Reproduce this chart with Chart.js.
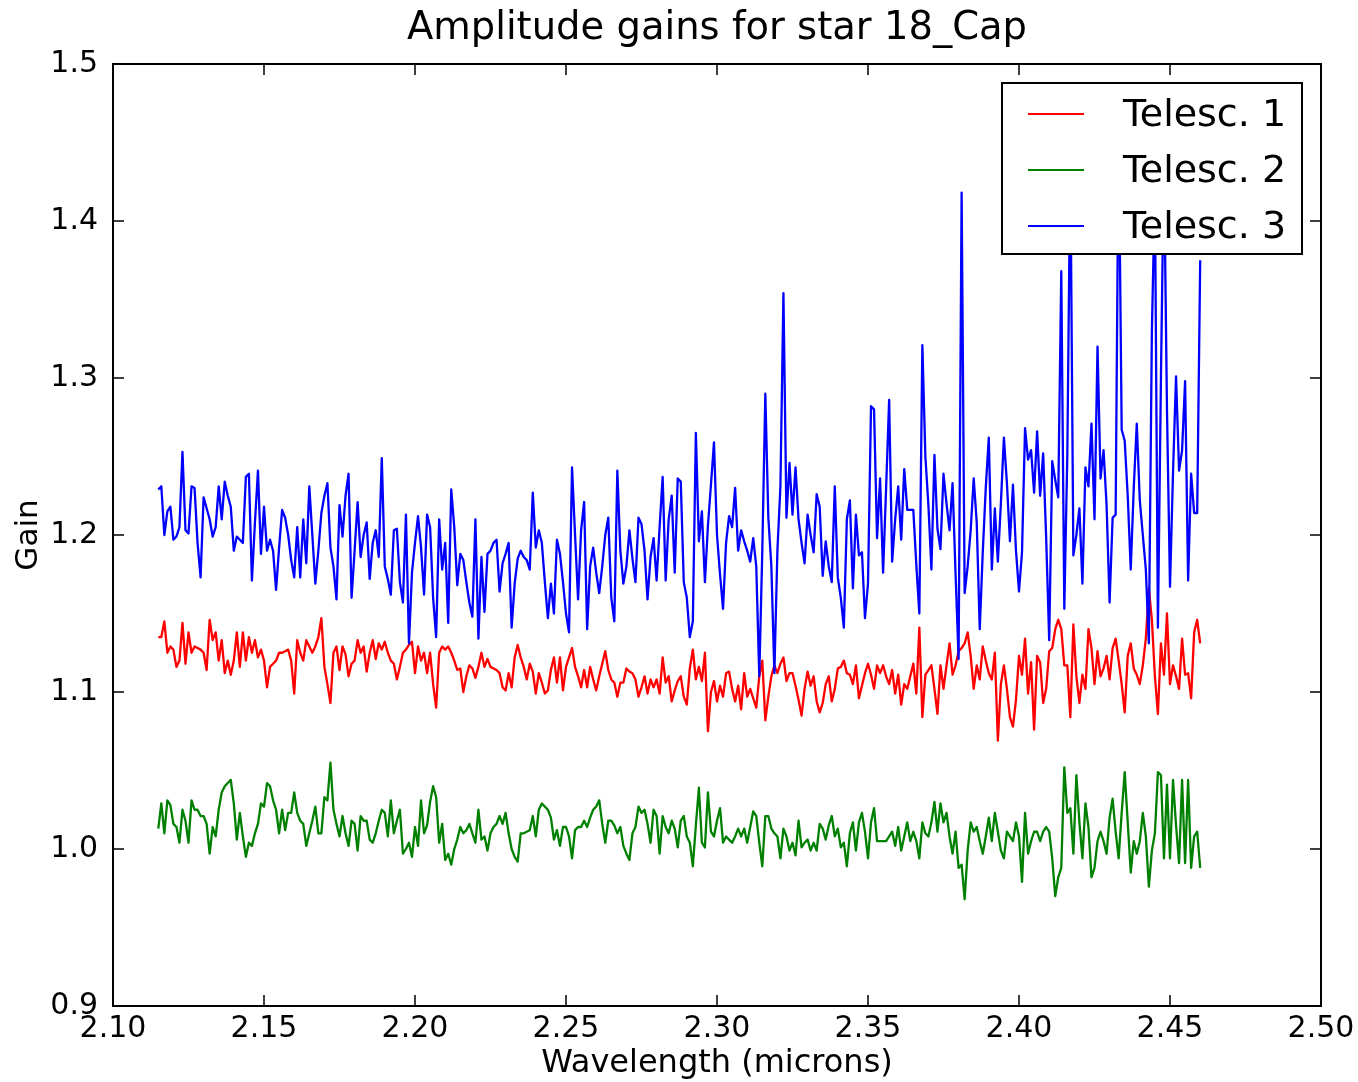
<!DOCTYPE html>
<html><head><meta charset="utf-8">
<script src="https://cdn.jsdelivr.net/npm/chart.js@4.4.1/dist/chart.umd.min.js"></script>
<style>html,body{margin:0;padding:0;background:#fff;}canvas{display:block;}</style>
</head><body>
<canvas id="c" width="1358" height="1082" style="width:1358px;height:1082px"></canvas>
<script>
const titleText = 'Amplitude gains for star 18_Cap';
const xAxisLabel = 'Wavelength (microns)';
const yAxisLabel = 'Gain';
const seriesNames = ['Telesc. 1', 'Telesc. 2', 'Telesc. 3'];
const seriesColors = ['#ff0000', '#008000', '#0000ff'];
const xRange = [2.10, 2.50];
const yRange = [0.9, 1.5];
const xStep = 0.05;
const yStep = 0.1;

const wavelengths = [
2.115,2.116,2.117,2.118,2.119,2.120,2.121,2.122,2.123,2.124,
2.125,2.126,2.127,2.128,2.129,2.130,2.131,2.132,2.133,2.134,
2.135,2.136,2.137,2.138,2.139,2.140,2.141,2.142,2.143,2.144,
2.145,2.146,2.147,2.148,2.149,2.150,2.151,2.152,2.153,2.154,
2.155,2.156,2.157,2.158,2.159,2.160,2.161,2.162,2.163,2.164,
2.165,2.166,2.167,2.168,2.169,2.170,2.171,2.172,2.173,2.174,
2.175,2.176,2.177,2.178,2.179,2.180,2.181,2.182,2.183,2.184,
2.185,2.186,2.187,2.188,2.189,2.190,2.191,2.192,2.193,2.194,
2.195,2.196,2.197,2.198,2.199,2.200,2.201,2.202,2.203,2.204,
2.205,2.206,2.207,2.208,2.209,2.210,2.211,2.212,2.213,2.214,
2.215,2.216,2.217,2.218,2.219,2.220,2.221,2.222,2.223,2.224,
2.225,2.226,2.227,2.228,2.229,2.230,2.231,2.232,2.233,2.234,
2.235,2.236,2.237,2.238,2.239,2.240,2.241,2.242,2.243,2.244,
2.245,2.246,2.247,2.248,2.249,2.250,2.251,2.252,2.253,2.254,
2.255,2.256,2.257,2.258,2.259,2.260,2.261,2.262,2.263,2.264,
2.265,2.266,2.267,2.268,2.269,2.270,2.271,2.272,2.273,2.274,
2.275,2.276,2.277,2.278,2.279,2.280,2.281,2.282,2.283,2.284,
2.285,2.286,2.287,2.288,2.289,2.290,2.291,2.292,2.293,2.294,
2.295,2.296,2.297,2.298,2.299,2.300,2.301,2.302,2.303,2.304,
2.305,2.306,2.307,2.308,2.309,2.310,2.311,2.312,2.313,2.314,
2.315,2.316,2.317,2.318,2.319,2.320,2.321,2.322,2.323,2.324,
2.325,2.326,2.327,2.328,2.329,2.330,2.331,2.332,2.333,2.334,
2.335,2.336,2.337,2.338,2.339,2.340,2.341,2.342,2.343,2.344,
2.345,2.346,2.347,2.348,2.349,2.350,2.351,2.352,2.353,2.354,
2.355,2.356,2.357,2.358,2.359,2.360,2.361,2.362,2.363,2.364,
2.365,2.366,2.367,2.368,2.369,2.370,2.371,2.372,2.373,2.374,
2.375,2.376,2.377,2.378,2.379,2.380,2.381,2.382,2.383,2.384,
2.385,2.386,2.387,2.388,2.389,2.390,2.391,2.392,2.393,2.394,
2.395,2.396,2.397,2.398,2.399,2.400,2.401,2.402,2.403,2.404,
2.405,2.406,2.407,2.408,2.409,2.410,2.411,2.412,2.413,2.414,
2.415,2.416,2.417,2.418,2.419,2.420,2.421,2.422,2.423,2.424,
2.425,2.426,2.427,2.428,2.429,2.430,2.431,2.432,2.433,2.434,
2.435,2.436,2.437,2.438,2.439,2.440,2.441,2.442,2.443,2.444,
2.445,2.446,2.447,2.448,2.449,2.450,2.451,2.452,2.453,2.454,
2.455,2.456,2.457,2.458,2.459,2.460
];

const telesc1 = [
1.135,1.135,1.145,1.125,1.129,1.127,1.116,1.120,1.144,1.118,
1.138,1.125,1.129,1.128,1.127,1.125,1.114,1.146,1.133,1.138,
1.120,1.133,1.112,1.120,1.111,1.120,1.138,1.116,1.138,1.120,
1.135,1.125,1.133,1.122,1.127,1.120,1.103,1.116,1.118,1.120,
1.125,1.125,1.126,1.127,1.120,1.099,1.133,1.125,1.120,1.133,
1.129,1.125,1.129,1.135,1.147,1.116,1.105,1.093,1.125,1.129,
1.114,1.129,1.124,1.110,1.118,1.120,1.133,1.125,1.129,1.113,
1.125,1.133,1.121,1.131,1.127,1.132,1.125,1.120,1.118,1.108,
1.116,1.125,1.127,1.130,1.132,1.112,1.129,1.120,1.125,1.112,
1.125,1.105,1.090,1.125,1.129,1.127,1.129,1.125,1.120,1.114,
1.115,1.100,1.110,1.117,1.115,1.109,1.116,1.125,1.116,1.121,
1.116,1.115,1.114,1.112,1.103,1.101,1.112,1.103,1.122,1.130,
1.122,1.116,1.108,1.118,1.113,1.099,1.112,1.106,1.099,1.101,
1.114,1.122,1.106,1.122,1.101,1.116,1.122,1.128,1.116,1.110,
1.103,1.114,1.103,1.116,1.108,1.101,1.110,1.118,1.126,1.114,
1.108,1.106,1.097,1.106,1.106,1.115,1.113,1.112,1.108,1.097,
1.103,1.110,1.099,1.108,1.103,1.108,1.099,1.122,1.106,1.110,
1.094,1.101,1.107,1.110,1.097,1.092,1.115,1.127,1.108,1.116,
1.107,1.125,1.075,1.100,1.107,1.094,1.104,1.097,1.112,1.113,
1.102,1.094,1.104,1.089,1.112,1.097,1.102,1.096,1.090,1.110,
1.120,1.082,1.097,1.110,1.117,1.112,1.118,1.122,1.107,1.112,
1.112,1.104,1.095,1.085,1.102,1.113,1.104,1.110,1.094,1.087,
1.093,1.105,1.110,1.094,1.102,1.115,1.116,1.120,1.112,1.111,
1.105,1.117,1.096,1.104,1.112,1.118,1.111,1.102,1.117,1.112,
1.117,1.110,1.105,1.114,1.099,1.111,1.092,1.105,1.102,1.110,
1.118,1.099,1.141,1.084,1.111,1.114,1.117,1.102,1.086,1.117,
1.102,1.117,1.131,1.111,1.117,1.126,1.128,1.131,1.138,1.123,
1.102,1.117,1.108,1.129,1.120,1.112,1.108,1.125,1.069,1.105,
1.117,1.102,1.084,1.078,1.095,1.123,1.111,1.134,1.099,1.119,
1.076,1.123,1.119,1.093,1.102,1.126,1.128,1.140,1.146,1.140,
1.117,1.117,1.084,1.143,1.110,1.093,1.111,1.102,1.140,1.128,
1.105,1.126,1.110,1.115,1.123,1.108,1.128,1.134,1.120,1.105,
1.087,1.123,1.131,1.115,1.111,1.105,1.117,1.134,1.166,1.146,
1.110,1.086,1.131,1.111,1.150,1.105,1.117,1.110,1.102,1.134,
1.111,1.112,1.096,1.138,1.146,1.131
];

const telesc2 = [
1.013,1.029,1.010,1.031,1.028,1.016,1.014,1.004,1.025,1.018,
1.004,1.031,1.025,1.025,1.021,1.021,1.016,0.997,1.014,1.008,
1.025,1.036,1.040,1.042,1.044,1.029,1.006,1.023,1.008,0.995,
1.004,1.002,1.010,1.016,1.029,1.027,1.042,1.040,1.031,1.025,
1.010,1.025,1.012,1.023,1.023,1.036,1.023,1.018,1.016,1.002,
1.010,1.018,1.027,1.010,1.010,1.033,1.031,1.055,1.025,1.016,
1.008,1.021,1.010,1.002,1.018,1.016,0.999,1.021,1.018,1.018,
1.006,1.004,1.010,1.018,1.025,1.023,1.008,1.031,1.010,1.018,
1.025,0.997,1.000,1.004,0.995,1.014,1.002,1.031,1.010,1.015,
1.030,1.040,1.033,1.004,1.016,0.993,0.997,0.990,1.000,1.006,
1.014,1.010,1.012,1.016,1.010,1.004,1.025,1.006,1.008,0.999,
1.010,1.014,1.016,1.021,1.016,1.023,1.010,1.000,0.995,0.992,
1.010,1.010,1.011,1.012,1.021,1.008,1.025,1.029,1.027,1.025,
1.020,1.006,1.012,1.002,1.014,1.014,1.008,0.994,1.012,1.014,
1.014,1.018,1.014,1.020,1.025,1.027,1.031,1.016,1.004,1.018,
1.018,1.015,1.010,1.014,1.002,0.997,0.993,1.010,1.014,1.027,
1.023,1.025,1.016,1.004,1.025,1.021,0.997,1.021,1.014,1.010,
1.018,1.013,1.001,1.018,1.021,1.008,1.004,0.989,1.015,1.039,
1.004,1.001,1.036,1.011,1.008,1.018,1.026,1.004,1.008,1.006,
1.004,1.008,1.013,1.008,1.013,1.004,1.014,1.024,1.021,1.004,
0.989,1.021,1.021,1.013,1.010,1.008,0.994,1.013,1.008,0.999,
1.004,0.996,1.018,1.001,1.004,1.006,0.999,1.004,0.999,1.016,
1.013,1.006,1.015,1.021,1.008,1.013,1.001,1.004,0.989,1.010,
1.017,0.999,1.017,1.023,1.011,0.994,1.017,1.026,1.005,1.005,
1.005,1.005,1.008,1.011,1.002,1.014,0.999,1.008,1.017,1.005,
1.011,1.005,0.994,1.017,1.010,1.008,1.017,1.030,1.011,1.029,
1.017,1.023,1.008,0.997,1.011,0.988,0.990,0.968,0.999,1.017,
1.011,1.014,1.005,0.997,1.008,1.020,1.005,1.023,1.011,0.999,
0.994,1.011,1.008,1.005,1.017,1.008,0.979,1.023,0.997,1.005,
1.011,1.011,1.005,1.011,1.014,1.011,0.994,0.970,0.982,0.988,
1.052,1.023,1.026,0.997,1.047,1.017,0.994,1.029,1.014,0.982,
0.988,1.005,1.011,1.005,0.997,1.020,1.032,1.011,0.994,1.023,
1.049,1.017,0.985,1.005,0.997,1.005,1.023,1.008,0.976,0.999,
1.010,1.049,1.047,0.994,1.041,0.994,1.044,1.015,0.991,1.044,
0.991,1.044,0.988,1.008,1.011,0.988
];

const telesc3 = [
1.229,1.231,1.200,1.215,1.218,1.197,1.199,1.205,1.253,1.203,
1.201,1.231,1.230,1.195,1.173,1.224,1.217,1.210,1.199,1.205,
1.231,1.210,1.234,1.225,1.218,1.190,1.199,1.197,1.195,1.237,
1.239,1.171,1.208,1.241,1.188,1.218,1.190,1.197,1.190,1.165,
1.192,1.216,1.211,1.200,1.184,1.173,1.205,1.173,1.210,1.182,
1.231,1.200,1.169,1.190,1.214,1.225,1.233,1.192,1.180,1.159,
1.219,1.199,1.225,1.239,1.160,1.190,1.221,1.186,1.200,1.208,
1.172,1.195,1.203,1.186,1.249,1.180,1.172,1.162,1.203,1.204,
1.170,1.157,1.213,1.131,1.176,1.195,1.212,1.192,1.162,1.213,
1.205,1.160,1.135,1.210,1.178,1.195,1.144,1.229,1.205,1.168,
1.188,1.184,1.170,1.157,1.148,1.210,1.134,1.186,1.151,1.188,
1.190,1.195,1.197,1.164,1.182,1.188,1.195,1.141,1.169,1.185,
1.190,1.186,1.184,1.178,1.227,1.192,1.203,1.195,1.170,1.147,
1.169,1.150,1.197,1.188,1.170,1.150,1.138,1.243,1.200,1.159,
1.203,1.221,1.140,1.180,1.192,1.176,1.163,1.180,1.200,1.211,
1.160,1.145,1.241,1.190,1.169,1.180,1.203,1.185,1.170,1.211,
1.207,1.190,1.159,1.186,1.198,1.171,1.205,1.237,1.171,1.210,
1.225,1.176,1.236,1.234,1.170,1.160,1.135,1.145,1.265,1.196,
1.215,1.170,1.206,1.232,1.259,1.200,1.175,1.153,1.195,1.212,
1.205,1.230,1.190,1.203,1.196,1.190,1.183,1.198,1.180,1.110,
1.190,1.290,1.211,1.180,1.112,1.190,1.231,1.354,1.211,1.246,
1.213,1.243,1.210,1.195,1.182,1.213,1.200,1.189,1.226,1.218,
1.174,1.196,1.180,1.170,1.231,1.173,1.160,1.141,1.210,1.222,
1.166,1.213,1.187,1.189,1.147,1.169,1.282,1.280,1.198,1.236,
1.176,1.230,1.286,1.183,1.210,1.231,1.197,1.242,1.216,1.216,
1.216,1.181,1.150,1.321,1.250,1.219,1.178,1.251,1.204,1.191,
1.239,1.220,1.203,1.233,1.175,1.121,1.418,1.163,1.180,1.203,
1.236,1.208,1.140,1.189,1.230,1.262,1.178,1.217,1.183,1.220,
1.262,1.233,1.196,1.232,1.190,1.164,1.189,1.268,1.248,1.254,
1.227,1.266,1.225,1.252,1.198,1.133,1.247,1.235,1.224,1.368,
1.153,1.251,1.440,1.187,1.200,1.217,1.169,1.243,1.231,1.271,
1.210,1.320,1.236,1.254,1.219,1.157,1.211,1.213,1.460,1.267,
1.260,1.225,1.178,1.230,1.271,1.222,1.200,1.178,1.131,1.330,
1.420,1.141,1.300,1.440,1.280,1.167,1.240,1.301,1.241,1.254,
1.298,1.171,1.239,1.214,1.214,1.375
];

const seriesValues = [telesc1, telesc2, telesc3];
const FONT = '"DejaVu Sans", "Liberation Sans", sans-serif';

const framePlugin = {
  id: 'frameTicks',
  afterDatasetsDraw(chart) {
    const {ctx, chartArea: a, scales} = chart;
    const x = scales.x, y = scales.y;
    const L = 11;
    ctx.save();
    ctx.strokeStyle = '#000';
    ctx.lineWidth = 1.5;
    ctx.beginPath();
    x.ticks.forEach(t => {
      const px = x.getPixelForValue(t.value);
      ctx.moveTo(px, a.bottom); ctx.lineTo(px, a.bottom - L);
      ctx.moveTo(px, a.top); ctx.lineTo(px, a.top + L);
    });
    y.ticks.forEach(t => {
      const py = y.getPixelForValue(t.value);
      ctx.moveTo(a.left, py); ctx.lineTo(a.left + L, py);
      ctx.moveTo(a.right, py); ctx.lineTo(a.right - L, py);
    });
    ctx.stroke();
    ctx.lineWidth = 2;
    ctx.strokeRect(a.left, a.top, a.right - a.left, a.bottom - a.top);
    ctx.restore();
  }
};

const legendPlugin = {
  id: 'boxLegend',
  afterDraw(chart) {
    const {ctx, chartArea: a} = chart;
    const bx = a.right - 319, by = a.top + 19, bw = 300, bh = 171;
    ctx.save();
    ctx.fillStyle = '#fff';
    ctx.fillRect(bx, by, bw, bh);
    ctx.strokeStyle = '#000';
    ctx.lineWidth = 2;
    ctx.strokeRect(bx, by, bw, bh);
    ctx.font = '38px ' + FONT;
    ctx.textBaseline = 'middle';
    ctx.textAlign = 'left';
    seriesNames.forEach((name, i) => {
      const ry = by + 31 + i * 56;
      ctx.strokeStyle = seriesColors[i];
      ctx.lineWidth = 2.2;
      ctx.beginPath();
      ctx.moveTo(bx + 26, ry); ctx.lineTo(bx + 82, ry);
      ctx.stroke();
      ctx.fillStyle = '#000';
      ctx.fillText(name, bx + 121, ry + 2);
    });
    ctx.restore();
  }
};

const datasets = seriesNames.map((name, i) => ({
  label: name,
  data: wavelengths.map((w, j) => ({x: w, y: seriesValues[i][j]})),
  borderColor: seriesColors[i],
  backgroundColor: seriesColors[i],
  borderWidth: 2.3,
  borderJoinStyle: 'round',
  pointRadius: 0,
  tension: 0,
  fill: false,
  order: 3 - i
}));

new Chart(document.getElementById('c'), {
  type: 'line',
  data: {datasets},
  plugins: [framePlugin, legendPlugin],
  options: {
    responsive: false,
    devicePixelRatio: 1,
    animation: false,
    layout: {padding: {left: 0, right: 37, top: 0, bottom: 0}},
    plugins: {
      legend: {display: false},
      tooltip: {enabled: false},
      title: {
        display: true,
        text: titleText,
        fullSize: false,
        color: '#000',
        font: {family: FONT, size: 38.5, weight: 'normal'},
        padding: {top: 6, bottom: 11.8}
      }
    },
    scales: {
      x: {
        type: 'linear',
        min: xRange[0], max: xRange[1],
        grid: {display: false, drawTicks: false},
        border: {display: false},
        ticks: {
          stepSize: xStep,
          color: '#000',
          padding: 5,
          maxRotation: 0,
          autoSkip: false,
          font: {family: FONT, size: 30},
          callback: v => Number(v).toFixed(2)
        },
        title: {
          display: true, text: xAxisLabel, color: '#000',
          font: {family: FONT, size: 32}, padding: {top: 0, bottom: -1}
        },
        afterFit(s) { s.height = 76; s.paddingLeft = 0; s.paddingRight = 0; }
      },
      y: {
        type: 'linear',
        min: yRange[0], max: yRange[1],
        grid: {display: false, drawTicks: false},
        border: {display: false},
        ticks: {
          stepSize: yStep,
          color: '#000',
          padding: 15,
          autoSkip: false,
          font: {family: FONT, size: 30},
          callback: v => Number(v).toFixed(1)
        },
        title: {
          display: true, text: yAxisLabel, color: '#000',
          font: {family: FONT, size: 31}, padding: {top: 10, bottom: 0}
        },
        afterFit(s) { s.width = 113; s.paddingTop = 0; s.paddingBottom = 0; }
      }
    }
  }
});
</script>
</body></html>
